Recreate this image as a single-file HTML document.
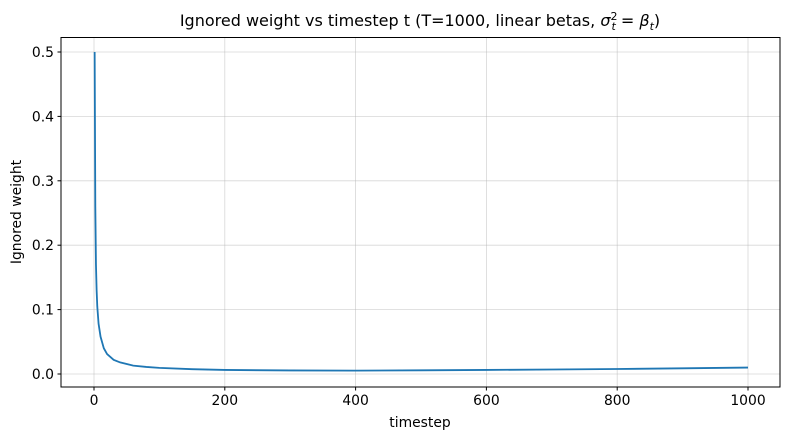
<!DOCTYPE html>
<html><head><meta charset="utf-8"><style>body{margin:0;background:#fff}svg{display:block;font-family:"DejaVu Sans","Liberation Sans",sans-serif}</style></head>
<body>
<svg id="chart" width="790" height="440" viewBox="0 0 790 440">
<rect x="0" y="0" width="790" height="440" fill="#fff"/>
<g id="grid"></g>
<g id="ticks"></g>
<path id="line" fill="none" stroke="#1f77b4" stroke-width="1.8"/>
<rect x="61" y="37.5" width="719" height="349.5" fill="none" stroke="#000" stroke-width="1"/>
<text x="420" y="26" text-anchor="middle" font-size="16" fill="#000">Ignored weight vs timestep t (T=1000, linear betas, <tspan font-style="italic">σ</tspan><tspan font-size="11" dy="-6">2</tspan><tspan font-size="11" dx="-6" dy="10" font-style="italic">t</tspan><tspan dy="-4"> = </tspan><tspan font-style="italic">β</tspan><tspan font-size="11" dy="4" font-style="italic">t</tspan><tspan dy="-4">)</tspan></text>
<text x="420" y="427" text-anchor="middle" font-size="13.9">timestep</text>
<text x="21" y="212" text-anchor="middle" font-size="13.9" transform="rotate(-90 21 212)">Ignored weight</text>
</svg>
<script>
const tValues=[1,2,3,4,5,7,10,15,20,30,40,60,80,100,150,200,300,400,500,600,700,800,900,1000];
const weights=[0.5,0.26,0.17,0.13,0.105,0.078,0.058,0.04,0.031,0.022,0.018,0.013,0.011,0.0095,0.0075,0.0063,0.0055,0.0053,0.0057,0.0063,0.007,0.0078,0.0088,0.0100];
const xTicks=[0,200,400,600,800,1000];
const yTicks=[0.0,0.1,0.2,0.3,0.4,0.5];
const L=61,R=780,T=37.5,B=387;
const xs=v=>94+v*0.654;
const ys=v=>374-v*644;
const ns='http://www.w3.org/2000/svg';
const grid=document.getElementById('grid'),ticks=document.getElementById('ticks');
function mk(tag,attrs,parent){const e=document.createElementNS(ns,tag);for(const k in attrs)e.setAttribute(k,attrs[k]);parent.appendChild(e);return e;}
xTicks.forEach(v=>{const x=xs(v);
const g=mk('line',{x1:x,x2:x,y1:T,y2:B,stroke:'#b0b0b0','stroke-opacity':0.5,'stroke-width':0.8},grid);


const tk=mk('line',{x1:x,x2:x,y1:B,y2:B+3.5,stroke:'#000'},ticks);


const t=mk('text',{x:x,y:B+18,'text-anchor':'middle','font-size':13.9},ticks);t.textContent=v;

});
yTicks.forEach(v=>{const y=ys(v);
const g=mk('line',{x1:L,x2:R,y1:y,y2:y,stroke:'#b0b0b0','stroke-opacity':0.5,'stroke-width':0.8},grid);


const tk=mk('line',{x1:L-3.5,x2:L,y1:y,y2:y,stroke:'#000'},ticks);


const t=mk('text',{x:L-7,y:y+5,'text-anchor':'end','font-size':13.9},ticks);t.textContent=v.toFixed(1);

});
document.getElementById('line').setAttribute('d',tValues.map((t,i)=>(i?'L':'M')+xs(t).toFixed(2)+' '+ys(weights[i]).toFixed(2)).join(' '));
</script>
</body></html>
